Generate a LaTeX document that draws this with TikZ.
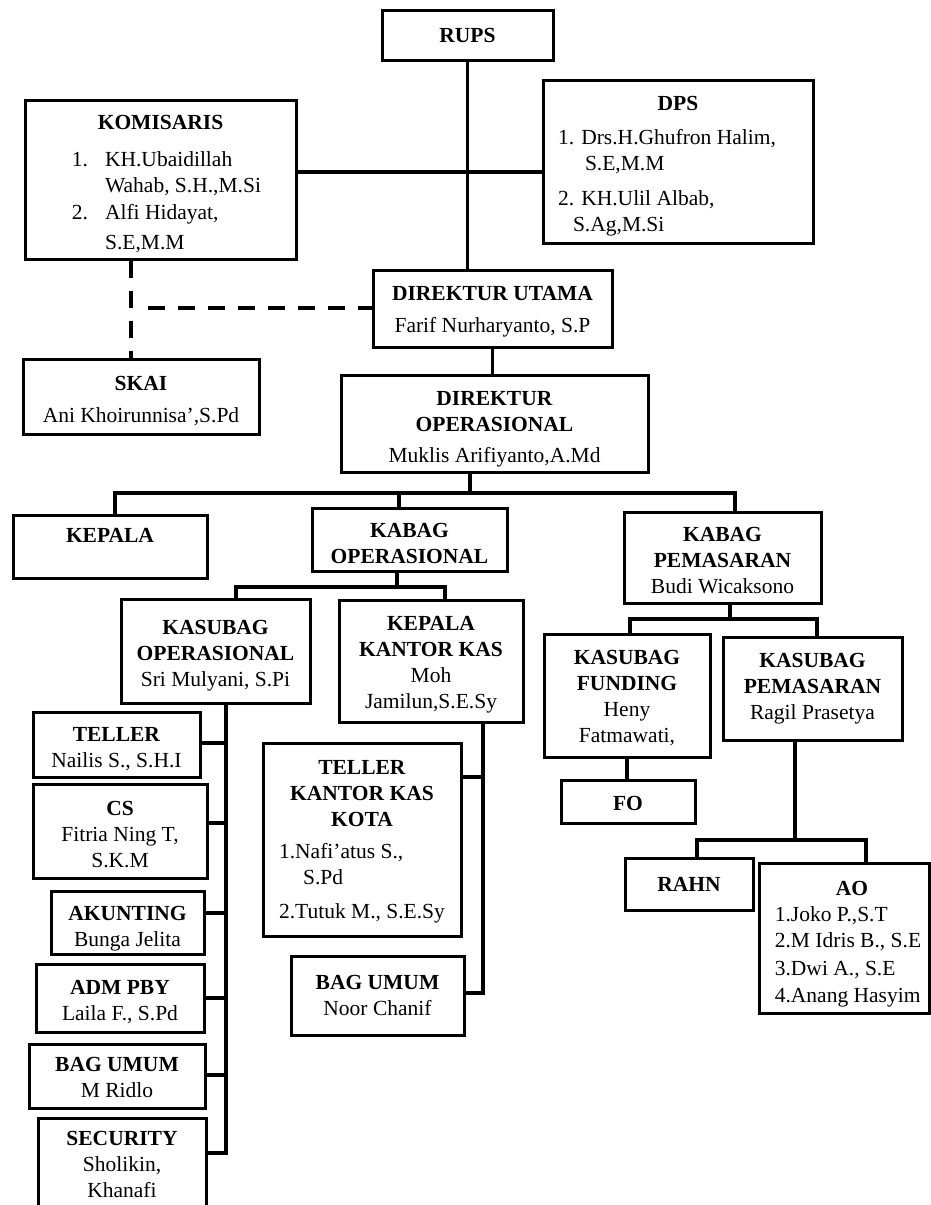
\documentclass[tikz,border=0pt]{standalone}
\usepackage{fontspec}
\setmainfont{Liberation Serif}
\usetikzlibrary{calc}

\begin{document}
\begin{tikzpicture}[x=1pt, y=-1pt,
    box/.style={draw, line width=3pt, inner sep=0pt, align=center, font=\fontsize{21.5}{26}\selectfont},
    link/.style={line width=3.2pt, line cap=rect},
    dashlink/.style={line width=3.5pt, dash pattern=on 17pt off 13pt}]
    \clip (0,0) rectangle (931,1205);

    % top level
    \node[box, minimum width=171pt, minimum height=50pt] (rups) at (467.5,35) {\textbf{RUPS}};
    \node[box, minimum width=271pt, minimum height=159pt] (komisaris) at (160.5,179.5) {\rule{0pt}{28pt}\textbf{KOMISARIS}\\[11pt]
        \begin{tabular}[t]{@{\hspace{12pt}}l@{\hspace{17pt}}l@{}}
        1. & KH.Ubaidillah\\
           & Wahab, S.H.,M.Si\\[1pt]
        2. & Alfi Hidayat,\\[4pt]
           & S.E,M.M
        \end{tabular}};
    \node[box, minimum width=270pt, minimum height=163pt] (dps) at (678,161.5) {\rule{0pt}{26pt}\textbf{DPS}\\[8pt]
        \begin{tabular}[t]{@{}l@{\hspace{22pt}}}
        1. Drs.H.Ghufron Halim,\\
        \hspace{27pt}S.E,M.M\\[9pt]
        2. KH.Ulil Albab,\\
        \hspace{15pt}S.Ag,M.Si
        \end{tabular}};
    \node[box, minimum width=239pt, minimum height=77pt] (dirut) at (492.5,308.5) {\rule{0pt}{21pt}\textbf{DIREKTUR UTAMA}\\[6pt]Farif Nurharyanto, S.P};
    \node[box, minimum width=236pt, minimum height=75pt] (skai) at (141,396.5) {\rule{0pt}{23pt}\textbf{SKAI}\\[6pt]Ani Khoirunnisa',S.Pd};
    \node[box, minimum width=307pt, minimum height=97pt] (dirops) at (494.5,423.5) {\rule{0pt}{26pt}\textbf{DIREKTUR}\\\textbf{OPERASIONAL}\\[5pt]Muklis Arifiyanto,A.Md};

    % kabag
    \node[box, minimum width=194pt, minimum height=63pt] (kepala) at (110,546.5) {\textbf{KEPALA}\rule[-22pt]{0pt}{0pt}};
    \node[box, minimum width=195pt, minimum height=63pt] (kabagops) at (409.5,539.5) {\rule{0pt}{22pt}\textbf{KABAG}\\\textbf{OPERASIONAL}};
    \node[box, minimum width=197pt, minimum height=91pt] (kabagpem) at (722.5,557.5) {\rule{0pt}{20pt}\textbf{KABAG}\\\textbf{PEMASARAN}\\Budi Wicaksono};

    % operasional
    \node[box, minimum width=189pt, minimum height=104pt] (ksops) at (215.5,651) {\rule{0pt}{23pt}\textbf{KASUBAG}\\\textbf{OPERASIONAL}\\Sri Mulyani, S.Pi};
    \node[box, minimum width=184pt, minimum height=122pt] (kkk) at (431,661) {\rule{0pt}{22pt}\textbf{KEPALA}\\\textbf{KANTOR KAS}\\Moh\\Jamilun,S.E.Sy};
    \node[box, minimum width=167pt, minimum height=65pt] (teller) at (116.5,744.5) {\rule{0pt}{23pt}\textbf{TELLER}\\Nailis S., S.H.I};
    \node[box, minimum width=174pt, minimum height=94pt] (cs) at (120,831) {\rule{0pt}{22pt}\textbf{CS}\\Fitria Ning T,\\S.K.M};
    \node[box, minimum width=153pt, minimum height=63pt] (akunting) at (127.5,922.5) {\rule{0pt}{26pt}\textbf{AKUNTING}\\Bunga Jelita};
    \node[box, minimum width=168pt, minimum height=68pt] (admpby) at (120,998) {\rule{0pt}{22pt}\textbf{ADM PBY}\\Laila F., S.Pd};
    \node[box, minimum width=176pt, minimum height=64pt] (bagumum) at (117,1076) {\rule{0pt}{18pt}\textbf{BAG UMUM}\\M Ridlo};
    \node[box, minimum width=168pt, minimum height=93pt] (security) at (122,1164.5) {\textbf{SECURITY}\\Sholikin,\\Khanafi};
    \node[box, minimum width=198pt, minimum height=193pt] (tkk) at (362,839.5) {\rule{0pt}{22pt}\textbf{TELLER}\\\textbf{KANTOR KAS}\\\textbf{KOTA}\\[6pt]
        \begin{tabular}[t]{@{}l@{}}
        1.Nafi'atus S.,\\
        \hspace{24pt}S.Pd\\[8pt]
        2.Tutuk M., S.E.Sy
        \end{tabular}};
    \node[box, minimum width=173pt, minimum height=79pt] (bagumumkas) at (377.5,995.5) {\textbf{BAG UMUM}\\Noor Chanif};

    % pemasaran
    \node[box, minimum width=166pt, minimum height=123pt] (ksfund) at (627,695.5) {\rule{0pt}{20pt}\textbf{KASUBAG}\\\textbf{FUNDING}\\Heny\\Fatmawati,};
    \node[box, minimum width=179pt, minimum height=103pt] (kspem) at (812.5,688.5) {\textbf{KASUBAG}\\\textbf{PEMASARAN}\\Ragil Prasetya};
    \node[box, minimum width=134pt, minimum height=43pt] (fo) at (628,801.5) {\rule{0pt}{18pt}\textbf{FO}};
    \node[box, minimum width=128pt, minimum height=52pt] (rahn) at (689,884) {\textbf{RAHN}};
    \node[box, minimum width=170pt, minimum height=150pt] (ao) at (844,938) {\rule{0pt}{30pt}\hspace*{16pt}\textbf{AO}\\
        \begin{tabular}[t]{@{\hspace{8pt}}l@{}}
        1.Joko P.,S.T\\
        2.M Idris B., S.E\\[2pt]
        3.Dwi A., S.E\\[1pt]
        4.Anang Hasyim
        \end{tabular}};

    % top connectors
    \coordinate (kdline) at (0,172);
    \draw[link] (rups.south) -- (rups.south |- dirut.north);
    \draw[link] (komisaris.east |- kdline) -- (dps.west |- kdline);
    \coordinate (skaidash) at (131,308);
    \coordinate (dashstart) at (148,308);
    \draw[dashlink] (skaidash |- komisaris.south) -- (skaidash |- skai.north);
    \draw[dashlink] (dashstart) -- (dashstart -| dirut.west);
    \draw[link] (dirut.south) -- (dirut.south |- dirops.north);

    % bus under direktur operasional
    \coordinate (busmid) at (470,493);
    \coordinate (busleft) at (115,493);
    \coordinate (busops) at (399,493);
    \coordinate (busright) at (735,493);
    \draw[link] (busmid |- dirops.south) -- (busmid);
    \draw[link] (busleft |- kepala.north) -- (busleft) -- (busright) -- (busright |- kabagpem.north);
    \draw[link] (busops) -- (busops |- kabagops.north);

    % bus under kabag operasional
    \coordinate (opsmid) at (397,587);
    \coordinate (opsleft) at (236,587);
    \coordinate (opsright) at (445,587);
    \draw[link] (opsmid |- kabagops.south) -- (opsmid);
    \draw[link] (opsleft |- ksops.north) -- (opsleft) -- (opsright) -- (opsright |- kkk.north);

    % staff of kasubag operasional
    \coordinate (opsspine) at (226,1153);
    \draw[link] (opsspine |- ksops.south) -- (opsspine);
    \foreach \n/\y in {teller/743, cs/823, akunting/913, admpby/998, bagumum/1075, security/1153} {
        \coordinate (tap) at (226,\y);
        \draw[link] (\n.east |- tap) -- (tap);
    }

    % staff of kepala kantor kas
    \coordinate (kasspine) at (483,993);
    \draw[link] (kasspine |- kkk.south) -- (kasspine);
    \foreach \n/\y in {tkk/777, bagumumkas/993} {
        \coordinate (tap) at (483,\y);
        \draw[link] (\n.east |- tap) -- (tap);
    }

    % bus under kabag pemasaran
    \coordinate (pemmid) at (730,619);
    \coordinate (pemleft) at (630,619);
    \coordinate (pemright) at (817,619);
    \draw[link] (pemmid |- kabagpem.south) -- (pemmid);
    \draw[link] (pemleft |- ksfund.north) -- (pemleft) -- (pemright) -- (pemright |- kspem.north);
    \draw[link] (ksfund.south) -- (ksfund.south |- fo.north);

    % bus under kasubag pemasaran
    \coordinate (aomid) at (795,840);
    \coordinate (aoleft) at (697,840);
    \coordinate (aoright) at (866,840);
    \draw[link] (aomid |- kspem.south) -- (aomid);
    \draw[link] (aoleft |- rahn.north) -- (aoleft) -- (aoright) -- (aoright |- ao.north);
\end{tikzpicture}
\end{document}
